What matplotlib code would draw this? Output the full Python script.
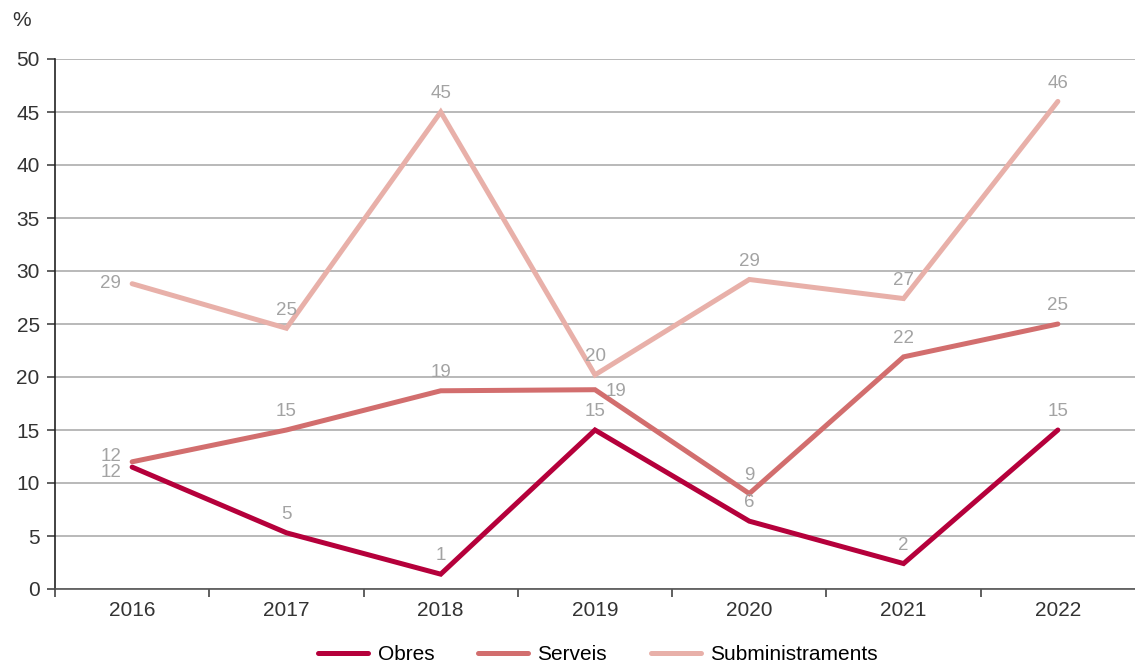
import matplotlib
matplotlib.use("Agg")
import matplotlib.pyplot as plt

plt.rcParams["font.family"] = ["Liberation Sans", "DejaVu Sans"]

years = ["2016", "2017", "2018", "2019", "2020", "2021", "2022"]
obres = [11.5, 5.3, 1.4, 15.0, 6.4, 2.4, 15.0]
serveis = [12.0, 15.0, 18.7, 18.8, 9.0, 21.9, 25.0]
subministraments = [28.8, 24.6, 45.0, 20.2, 29.2, 27.4, 46.0]

series = [
    ("Obres", obres, "#b5003b"),
    ("Serveis", serveis, "#d26e6e"),
    ("Subministraments", subministraments, "#e8b0a9"),
]

# label offsets in points (dx, dy, ha, va); default is just above the point
offsets = {
    ("Obres", 0): (-8, -4, "right", "center"),
    ("Serveis", 0): (-8, 4, "right", "center"),
    ("Subministraments", 0): (-8, 0, "right", "center"),
    ("Serveis", 3): (8, -1, "left", "center"),
}

fig = plt.figure(figsize=(11.35, 6.68), dpi=100)
ax = fig.add_axes([55 / 1135, 1 - 589 / 668, 1 - 55 / 1135, (589 - 59) / 668])

x = list(range(len(years)))
for name, vals, col in series:
    ax.plot(x, vals, color=col, lw=3.6, label=name, solid_capstyle="round",
            solid_joinstyle="miter", zorder=3)
    for i, v in enumerate(vals):
        dx, dy, ha, va = offsets.get((name, i), (0, 7, "center", "bottom"))
        ax.annotate(f"{round(v):d}", (i, v), xytext=(dx, dy), textcoords="offset points",
                    ha=ha, va=va, fontsize=13.5, color="#a3a3a3", zorder=4)

ax.set_xlim(-0.5, len(years) - 0.5)
ax.set_ylim(0, 50)
ax.set_yticks(range(0, 51, 5))
ax.yaxis.grid(True, color="#adadad", lw=1.2)
ax.set_axisbelow(True)
ax.set_xticks([i - 0.5 for i in range(len(years))])
ax.set_xticklabels([])
ax.set_xticks(x, minor=True)
ax.set_xticklabels(years, minor=True)
ax.tick_params(axis="x", which="minor", length=0, pad=9, labelsize=15, labelcolor="#333333")
ax.tick_params(axis="x", which="major", length=6, width=1.2, color="#444444", direction="out")
ax.tick_params(axis="y", length=6, width=1.2, color="#444444", labelsize=15,
               labelcolor="#333333", pad=5)

for s in ["top", "right"]:
    ax.spines[s].set_visible(False)
ax.spines["left"].set_color("#222222")
ax.spines["left"].set_linewidth(1.2)
ax.spines["bottom"].set_color("#555555")
ax.spines["bottom"].set_linewidth(1.2)

fig.text(12 / 1135, 1 - 20 / 668, "%", fontsize=15, color="#333333", va="center")

fig.legend(loc="center", bbox_to_anchor=(0.527, 1 - 655 / 668), ncol=3, frameon=False,
           fontsize=15, handlelength=2.4, columnspacing=2.1, handletextpad=0.45)

fig.savefig("out.png", dpi=100)
